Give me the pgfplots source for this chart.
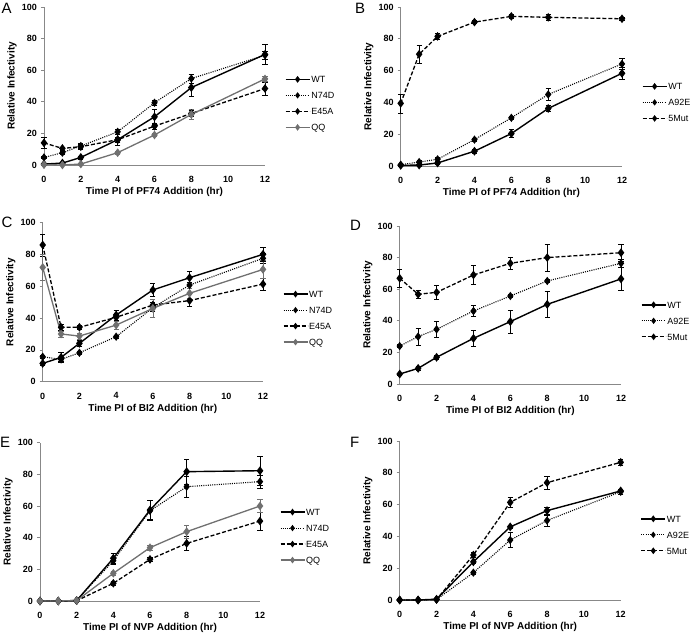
\documentclass[border=0pt]{standalone}
\usepackage{pgfplots}
\pgfplotsset{compat=1.18}
\usepackage{fontspec}
\setmainfont{Liberation Sans}
\definecolor{axisgray}{HTML}{888888}
\definecolor{qqgray}{HTML}{707070}
\pgfplotsset{
  panel/.style={
    scale only axis, clip=false,
    xmin=0, xmax=12, ymin=0, ymax=100,
    xtick={0,2,...,12}, ytick={0,20,...,100},
    axis lines=left,
    axis line style={-, draw=axisgray, line width=0.7pt},
    tick align=outside, major tick length=3pt,
    ytick style={draw=axisgray, line width=0.7pt},
    xtick style={draw=none},
    /pgf/number format/assume math mode=true,
    ticklabel style={font=\bfseries\fontsize{9}{10}\selectfont},
    xticklabel style={yshift=-4.5pt},
    yticklabel style={xshift=-0.5pt},
    label style={font=\bfseries\fontsize{10}{12}\selectfont},
    ylabel={Relative Infectivity},
    ylabel style={at={(axis description cs:0,0.5)}, yshift=32pt, anchor=center},
    xlabel style={at={(axis description cs:0.5,0)}, yshift=-27.3pt, anchor=center},
    legend cell align=left,
    legend style={draw=none, fill=none, inner sep=0pt, outer sep=0pt, anchor=west,
      font=\fontsize{9}{10}\selectfont, row sep=7.3pt,
      nodes={inner sep=1pt, text height=6.7pt, text depth=0pt}},
    legend image code/.code={\draw[mark repeat=2,mark phase=2,#1,mark size=2.3pt]
      plot coordinates {(0pt,0pt) (12pt,0pt) (24pt,0pt)};},
  },
  leg/.style={legend style={at={(axis description cs:1.09,#1)}}},
  ebars/.style={error bars/.cd, y dir=both, y explicit,
    error bar style={line width=0.6pt, solid},
    error mark options={rotate=90, mark size=2.6pt, line width=0.6pt, solid}},
  wt/.style={black, line width=1.4pt, mark=diamond*, mark size=3.3pt, mark options={solid}},
  dotl/.style={black, line width=1.1pt, dash pattern=on 1pt off 1.2pt, mark=diamond*, mark size=3.3pt, mark options={solid}},
  dashl/.style={black, line width=1.3pt, dash pattern=on 4pt off 2pt, mark=diamond*, mark size=3.3pt, mark options={solid}},
  qq/.style={qqgray, line width=1.3pt, mark=diamond*, mark size=3.3pt, mark options={solid, fill=qqgray, draw=qqgray}},
}
\begin{document}
\begin{tikzpicture}[x=1pt,y=1pt]
\path[use as bounding box] (0,0) rectangle (696,633);
\node[anchor=north west, inner sep=0pt, font=\fontsize{15}{18}\selectfont] at (1.5,630.5) {A};
\node[anchor=north west, inner sep=0pt, font=\fontsize{15}{18}\selectfont] at (355,630.5) {B};
\node[anchor=north west, inner sep=0pt, font=\fontsize{15}{18}\selectfont] at (1.5,416) {C};
\node[anchor=north west, inner sep=0pt, font=\fontsize{15}{18}\selectfont] at (350,413) {D};
\node[anchor=north west, inner sep=0pt, font=\fontsize{15}{18}\selectfont] at (0,196) {E};
\node[anchor=north west, inner sep=0pt, font=\fontsize{15}{18}\selectfont] at (350,196) {F};

% ---------- A ----------
\begin{axis}[panel, at={(44pt,468pt)}, anchor=south west, width=221pt, height=158pt,
  xlabel={Time PI of PF74 Addition (hr)}, leg=0.39]
\addplot[wt, ebars] table[x=t,y=v,y error=e]{
t v e
0 0.6 0.5
1 1.2 0.5
2 4.8 1
4 16 3.5
6 30.5 4.5
8 49 5.5
12 70 6.5
};
\addlegendentry{WT}
\addplot[dotl, ebars] table[x=t,y=v,y error=e]{
t v e
0 4.8 0.8
1 7.8 1
2 12 1.5
4 21 1.5
6 39.4 1.8
8 54.7 3
12 69.5 2.5
};
\addlegendentry{N74D}
\addplot[dashl, ebars] table[x=t,y=v,y error=e]{
t v e
0 14 3.5
1 10.5 1
2 11.6 1.5
4 16 1.5
6 24.6 2
8 32.6 2
12 48.4 4
};
\addlegendentry{E45A}
\addplot[qq, ebars] table[x=t,y=v,y error=e]{
t v e
0 0.2 0.3
1 0 0.3
2 0.6 0.5
4 7.8 0.8
6 19 1
8 32 3
12 54.5 1.8
};
\addlegendentry{QQ}
\end{axis}

% ---------- B ----------
\begin{axis}[panel, at={(400.7pt,467pt)}, anchor=south west, width=221.3pt, height=159pt,
  xlabel={Time PI of PF74 Addition (hr)}, leg=0.40]
\addplot[wt, ebars] table[x=t,y=v,y error=e]{
t v e
0 0.4 0.3
1 0.6 0.5
2 1.9 0.8
4 9.3 1
6 20.4 2.5
8 36.2 2
12 58.3 3.5
};
\addlegendentry{WT}
\addplot[dotl, ebars] table[x=t,y=v,y error=e]{
t v e
0 0.8 0.5
1 2.5 1
2 4.2 1
4 16.6 1
6 30.3 1
8 45 3.7
12 64.2 3.5
};
\addlegendentry{A92E}
\addplot[dashl, ebars] table[x=t,y=v,y error=e]{
t v e
0 39.4 6
1 70.3 5.5
2 81.5 2
4 90.5 1
6 94.1 1
8 93.5 2
12 92.6 1
};
\addlegendentry{5Mut}
\end{axis}

% ---------- C ----------
\begin{axis}[panel, at={(42.7pt,251.3pt)}, anchor=south west, width=220.3pt, height=159pt,
  xlabel={Time PI of BI2 Addition (hr)}, leg=0.40]
\addplot[wt, ebars] table[x=t,y=v,y error=e]{
t v e
0 11.5 1
1 15.3 3
2 24.1 2
4 41.9 3
6 57.7 4
8 65.4 4
12 80.1 4.5
};
\addlegendentry{WT}
\addplot[dotl, ebars] table[x=t,y=v,y error=e]{
t v e
0 15.7 1
1 14 1
2 18.2 1
4 28.3 1
6 46.5 2
8 60.8 2
12 77.6 3
};
\addlegendentry{N74D}
\addplot[dashl, ebars] table[x=t,y=v,y error=e]{
t v e
0 86 7
1 34.2 2
2 34.2 1
4 40.5 2
6 48.2 2
8 51 3.8
12 61.4 3.8
};
\addlegendentry{E45A}
\addplot[qq, ebars] table[x=t,y=v,y error=e]{
t v e
0 71.9 8
1 30 2
2 28.7 2
4 35.6 2.5
6 46.1 5.5
8 55.6 3
12 70.6 5.5
};
\addlegendentry{QQ}
\end{axis}

% ---------- D ----------
\begin{axis}[panel, at={(399.7pt,249pt)}, anchor=south west, width=221.3pt, height=158pt,
  xlabel={Time PI of BI2 Addition (hr)}, leg=0.40]
\addplot[wt, ebars] table[x=t,y=v,y error=e]{
t v e
0 6.3 0.5
1 9.9 1
2 16.9 1.5
4 28.9 4.9
6 39.5 7.3
8 50.4 8
12 66.5 7.3
};
\addlegendentry{WT}
\addplot[dotl, ebars] table[x=t,y=v,y error=e]{
t v e
0 24 1
1 30 5.3
2 34.6 5
4 46.2 3.6
6 55.7 1
8 65.2 1
12 76.4 2.5
};
\addlegendentry{A92E}
\addplot[dashl, ebars] table[x=t,y=v,y error=e]{
t v e
0 66.9 5.7
1 56.8 2.7
2 58 4.6
4 69 6
6 76.4 3.5
8 80 8.6
12 83.1 5.5
};
\addlegendentry{5Mut}
\end{axis}

% ---------- E ----------
\begin{axis}[panel, at={(40pt,32pt)}, anchor=south west, width=220pt, height=158.3pt,
  xlabel={Time PI of NVP Addition (hr)}, leg=0.41]
\addplot[wt, ebars] table[x=t,y=v,y error=e]{
t v e
0 0 0
1 0 0
2 0.3 0
4 27 3
6 57.5 6
8 81.7 8
12 82.3 9
};
\addlegendentry{WT}
\addplot[dotl, ebars] table[x=t,y=v,y error=e]{
t v e
0 0 0
1 0 0
2 0.3 0
4 25.5 2
6 57 6.3
8 72.2 6.7
12 75.4 4
};
\addlegendentry{N74D}
\addplot[dashl, ebars] table[x=t,y=v,y error=e]{
t v e
0 0 0
1 0 0
2 0.2 0
4 11.2 1
6 26.3 1.5
8 36.4 4.4
12 50.5 5.7
};
\addlegendentry{E45A}
\addplot[qq, ebars] table[x=t,y=v,y error=e]{
t v e
0 0 0
1 0 0
2 0.3 0
4 17.5 1
6 33.7 1.5
8 43.8 4
12 60 4
};
\addlegendentry{QQ}
\end{axis}

% ---------- F ----------
\begin{axis}[panel, at={(399.7pt,33pt)}, anchor=south west, width=221pt, height=159pt,
  xlabel={Time PI of NVP Addition (hr)}, leg=0.41]
\addplot[wt, ebars] table[x=t,y=v,y error=e]{
t v e
0 0 0
1 0 0
2 0.5 0
4 24 1
6 46 1
8 56.2 2
12 68.6 1
};
\addlegendentry{WT}
\addplot[dotl, ebars] table[x=t,y=v,y error=e]{
t v e
0 0 0
1 0 0
2 0.3 0
4 17.2 1
6 37.7 4.6
8 50 3.5
12 68.1 1.5
};
\addlegendentry{A92E}
\addplot[dashl, ebars] table[x=t,y=v,y error=e]{
t v e
0 0 0
1 0 0
2 0.3 0
4 28.3 1.5
6 61.4 3
8 73.8 4.2
12 86.6 2
};
\addlegendentry{5Mut}
\end{axis}
\end{tikzpicture}
\end{document}
